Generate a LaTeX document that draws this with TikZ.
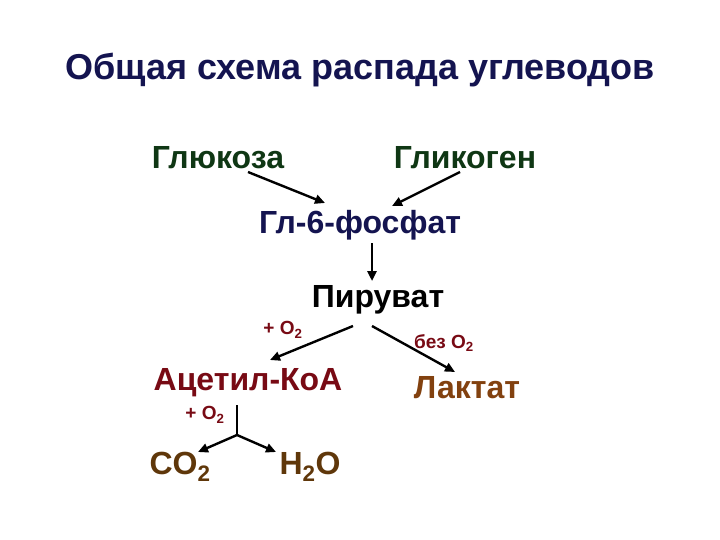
\documentclass[tikz,border=0pt]{standalone}
\usepackage{fontspec}
\setmainfont{Liberation Sans}
\usetikzlibrary{arrows.meta}
\definecolor{navy}{RGB}{20,20,80}
\definecolor{dgreen}{RGB}{15,55,20}
\definecolor{dred}{RGB}{120,10,20}
\definecolor{lbrown}{RGB}{130,65,15}
\definecolor{dbrown}{RGB}{95,55,10}
\begin{document}
\begin{tikzpicture}[x=1pt,y=-1pt,
 t/.style={font=\bfseries\fontsize{32}{36}\selectfont, inner sep=0pt},
 s/.style={font=\bfseries\fontsize{19}{22}\selectfont, text=dred, inner sep=0pt},
 arr/.style={line width=2.4pt, -{Triangle[length=10pt,width=9pt]}}]
\useasboundingbox[fill=white] (0,0) rectangle (720,540);
\node[t, text=navy, font=\bfseries\fontsize{36}{40}\selectfont] (title) at (360,70) {Общая схема распада углеводов};
\node[t, text=dgreen] (glu) at (218,158) {Глюкоза};
\node[t, text=dgreen] (gly) at (465,158) {Гликоген};
\node[t, text=navy] (g6p) at (360,225) {Гл-6-фосфат};
\node[t, text=black] (pyr) at (378,300) {Пируват};
\node[t, text=dred] (aca) at (248,383) {Ацетил-КоА};
\node[t, text=lbrown] (lac) at (467,388) {Лактат};
\node[t, text=dbrown] (co2) at (180,467) {CO\textsubscript{2}};
\node[t, text=dbrown] (h2o) at (310,467) {H\textsubscript{2}O};
\node[s] (o1) at (283,330) {+ O\textsubscript{2}};
\node[s] (o2) at (444,343) {без O\textsubscript{2}};
\node[s] (o3) at (205,415) {+ O\textsubscript{2}};
\coordinate (a1) at (248,172); \coordinate (b1) at (325,203);
\coordinate (a2) at (460,172); \coordinate (b2) at (392,206);
\coordinate (a3) at (372,243); \coordinate (b3) at (372,281);
\coordinate (a4) at (353,326); \coordinate (b4) at (270,360);
\coordinate (a5) at (372,326); \coordinate (b5) at (455,372);
\coordinate (a6) at (237,405); \coordinate (j) at (237,435);
\coordinate (b6) at (198,452); \coordinate (b7) at (276,452);
\draw[arr] (a1) -- (b1);
\draw[arr] (a2) -- (b2);
\draw[arr] (a3) -- (b3);
\draw[arr] (a4) -- (b4);
\draw[arr] (a5) -- (b5);
\draw[line width=2.4pt] (a6) -- (j);
\draw[arr] (j) -- (b6);
\draw[arr] (j) -- (b7);
\end{tikzpicture}
\end{document}
